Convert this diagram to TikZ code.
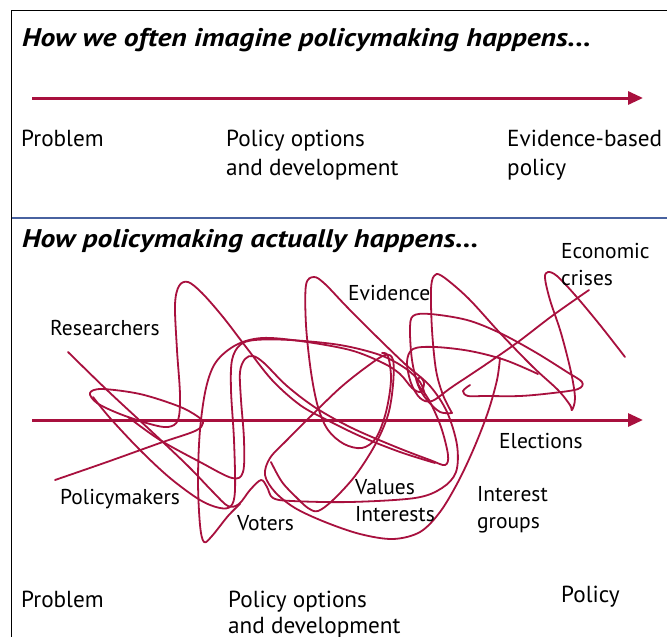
\documentclass[tikz,border=0pt]{standalone}
\usepackage{fontspec}
\setmainfont{PT Sans}
\newfontfamily\headfont[FakeStretch=1.16]{PT Sans}
\usetikzlibrary{arrows.meta}
\definecolor{scrib}{RGB}{168,16,62}
\definecolor{rulecol}{RGB}{72,98,160}
\begin{document}
\begin{tikzpicture}[x=1pt,y=-1pt,
  lbl/.style={anchor=base west, inner sep=0pt, font=\fontsize{21.5}{28}\selectfont},
  stage/.style={anchor=base west, inner sep=0pt, font=\fontsize{23.2}{28}\selectfont},
  ttl/.style={anchor=base west, inner sep=0pt, font=\headfont\fontsize{25.5}{30}\selectfont\bfseries\itshape},
  timeline/.style={draw=scrib, line width=3pt, -{Triangle[length=15pt,width=13pt]}},
  scribble/.style={draw=scrib, line width=1.8pt, line cap=round, line join=round}]
\useasboundingbox (0,0) rectangle (667,637);
\fill[white] (0,0) rectangle (667,637);

% frame and divider
\draw[line width=1.5pt] (11.5,637) -- (11.5,10.5) -- (667,10.5);
\draw[rulecol, line width=2pt] (11.5,218) -- (667,218);

% ---------- upper panel ----------
\node[ttl] (title1) at (22,46) {How we often imagine policymaking happens...};
\coordinate (a1s) at (32,98);
\coordinate (a1e) at (643,98);
\draw[timeline] (a1s) -- (a1e);
\node[stage] (prob1) at (21,146.5) {Problem};
\node[stage] (opt1) at (226,146.5) {Policy options};
\node[stage] (opt1b) at (226,175) {and development};
\node[stage] (ebp1) at (507,146.5) {Evidence-based};
\node[stage] (ebp1b) at (507,175) {policy};

% ---------- lower panel ----------
\node[ttl] (title2) at (22,247) {How policymaking actually happens...};
\coordinate (a2s) at (32,420);
\coordinate (a2e) at (643,420);

% the tangle of influences
% researchers stroke, wave under the voters, values line, second peak
\draw[scribble] plot[smooth, tension=0.55] coordinates {
 (68,352) (108,391) (150,430) (188,466) (213,492) (228,506) (239,504) (250,490)
 (261,480) (267,487) (273,498) (292,501) (350,502) (415,498) (442,488) (456,472)
 (457,445) (447,412) (430,386) (405,364) (377,337) (347,307) (325,284) (314,277)
 (306,285) (306,325) (311,372) (318,407) (328,430) (344,444) (362,448) (376,438)
 (386,412) (391,380) (388,356) (382,353)};
% stroke starting on the axis, inner loop, pointed loop, double arc, deep U
\draw[scribble] plot[smooth, tension=0.55] coordinates {
 (128,417) (160,440) (200,462) (232,478) (243,472) (244,440) (241,400) (240,372)
 (245,359) (253,356) (264,363) (287,386) (316,408) (352,428) (396,447) (430,460)
 (445,465) (448,455) (441,427) (429,400) (418,384) (420,377) (424,383) (421,392)
 (412,388) (400,374) (383,363) (350,350) (300,341) (262,338) (236,345) (216,362)
 (206,388) (200,430) (198,480) (200,525) (204,542) (212,536) (228,516) (240,504)};
% policymakers stroke, flat loop, first peak, long diagonal
\draw[scribble] plot[smooth, tension=0.55] coordinates {
 (55,480) (107,462) (160,443) (195,431) (203,423) (197,416) (178,406) (140,394)
 (102,389) (90,393) (97,403) (120,414) (150,424) (168,427) (178,420) (180,395)
 (177,350) (175,305) (179,286) (188,282) (202,293) (223,317) (246,347) (272,380)
 (300,405) (327,420) (362,437) (400,452) (435,463)};
% lower edge of the flat loop rising into the inner arc
\draw[scribble] plot[smooth, tension=0.55] coordinates {
 (93,397) (110,418) (140,450) (170,478) (200,500) (220,508) (231,506) (235,490)
 (234,440) (231,390) (232,360) (240,345) (255,340) (290,340) (340,345) (380,355)
 (405,368) (420,382) (425,395)};
% interest groups loop and narrow spike
\draw[scribble] plot[smooth, tension=0.55] coordinates {
 (500,358) (497,380) (488,412) (474,448) (458,482) (440,512) (420,532) (393,539)
 (360,534) (325,522) (295,508) (275,492) (265,475) (270,458) (287,440) (312,415)
 (340,388) (365,368) (385,355) (393,360) (393,385) (388,415) (375,445) (355,476)
 (333,500) (318,511) (308,508) (297,498) (282,482) (271,462)};
% evidence loop and the rise to the economic crises
\draw[scribble] plot[smooth, tension=0.55] coordinates {
 (538,374) (505,360) (470,351) (435,347) (413,349) (407,362) (411,383) (420,398)
 (432,401) (452,387) (485,365) (518,342) (552,316) (589,290)};
% third peak and the crises loop
\draw[scribble] plot[smooth, tension=0.55] coordinates {
 (452,413) (443,395) (436,370) (432,330) (431,290) (434,276) (442,276) (468,298)
 (500,333) (533,367) (558,390) (570,405) (572,410) (575,398) (571,372) (561,333)
 (550,300) (545,278) (548,272) (557,276) (575,295) (600,325) (625,357)};
% wide flat loop on the right
\draw[scribble] plot[smooth, tension=0.55] coordinates {
 (452,413) (440,412) (427,400) (418,385) (412,360) (410,330) (413,316) (430,314)
 (467,320) (500,333) (535,352) (567,372) (582,382) (578,389) (553,393) (520,396)
 (485,396) (468,396) (463,391) (470,385)};

\draw[timeline] (a2s) -- (a2e);

\node[lbl] (econ) at (561,258) {Economic};
\node[lbl] (econb) at (561,285) {crises};
\node[lbl] (evid) at (348,300) {Evidence};
\node[lbl] (resr) at (50,335) {Researchers};
\node[lbl] (elec) at (499,448) {Elections};
\node[lbl] (pmak) at (60,504) {Policymakers};
\node[lbl] (vals) at (355,494) {Values};
\node[lbl] (ints) at (355,521) {Interests};
\node[lbl] (igrp) at (477,501) {Interest};
\node[lbl] (igrpb) at (477,528) {groups};
\node[lbl] (vote) at (237,530) {Voters};
\node[stage] (prob2) at (21,607) {Problem};
\node[stage] (opt2) at (228,607) {Policy options};
\node[stage] (opt2b) at (228,633) {and development};
\node[stage] (pol2) at (561,602) {Policy};
\end{tikzpicture}
\end{document}
